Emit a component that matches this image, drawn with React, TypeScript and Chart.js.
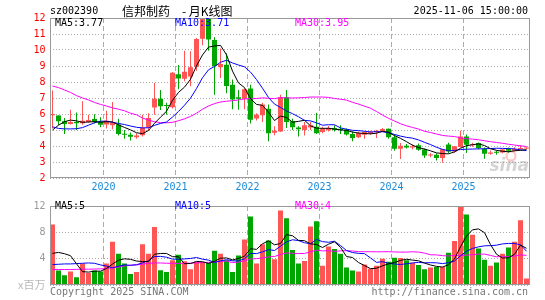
import React, { useEffect, useRef } from 'react';
import { Chart, registerables } from 'chart.js';

Chart.register(...registerables);

// ---- categories (monthly K-line, 2019-04 .. 2025-11) ----
const months = [
  '2019-04', '2019-05', '2019-06', '2019-07', '2019-08', '2019-09', '2019-10', '2019-11', '2019-12',
  '2020-01', '2020-02', '2020-03', '2020-04', '2020-05', '2020-06', '2020-07', '2020-08', '2020-09', '2020-10', '2020-11', '2020-12',
  '2021-01', '2021-02', '2021-03', '2021-04', '2021-05', '2021-06', '2021-07', '2021-08', '2021-09', '2021-10', '2021-11', '2021-12',
  '2022-01', '2022-02', '2022-03', '2022-04', '2022-05', '2022-06', '2022-07', '2022-08', '2022-09', '2022-10', '2022-11', '2022-12',
  '2023-01', '2023-02', '2023-03', '2023-04', '2023-05', '2023-06', '2023-07', '2023-08', '2023-09', '2023-10', '2023-11', '2023-12',
  '2024-01', '2024-02', '2024-03', '2024-04', '2024-05', '2024-06', '2024-07', '2024-08', '2024-09', '2024-10', '2024-11', '2024-12',
  '2025-01', '2025-02', '2025-03', '2025-04', '2025-05', '2025-06', '2025-07', '2025-08', '2025-09', '2025-10', '2025-11',
];

// ---- OHLC ----
const opens = [
  5.92, 5.90, 5.55, 5.38, 5.50, 5.42, 5.50, 5.68, 5.50, 5.35,
  5.30, 5.35, 4.77, 4.70, 4.54, 4.67, 5.15, 6.40, 6.96, 6.56,
  6.42, 8.48, 8.21, 8.35, 8.95, 10.70, 12.00, 10.62, 8.92, 9.08,
  7.83, 7.05, 6.95, 7.60, 5.72, 5.92, 6.33, 4.83, 4.91, 7.04,
  5.54, 5.15, 5.00, 5.15, 5.20, 4.88, 4.98, 5.12, 5.08, 5.02,
  4.75, 4.54, 4.71, 4.80, 4.88, 4.91, 5.08, 4.55, 3.83, 4.02,
  3.90, 4.04, 3.78, 3.40, 3.46, 3.25, 4.10, 3.66, 3.94, 4.60,
  4.05, 4.19, 3.81, 3.52, 3.62, 3.60, 3.82, 3.70, 3.82, 3.84,
];
const highs = [
  7.47, 5.92, 5.75, 6.27, 6.10, 6.80, 5.95, 5.98, 5.80, 6.20,
  6.75, 5.70, 5.00, 4.85, 4.80, 5.95, 6.05, 7.94, 7.50, 6.70,
  8.62, 9.06, 9.96, 9.92, 10.75, 12.00, 12.00, 10.80, 10.10, 9.80,
  8.15, 7.50, 7.60, 7.83, 6.05, 6.70, 6.60, 5.23, 7.20, 7.50,
  5.70, 5.23, 5.50, 5.50, 6.06, 5.20, 5.25, 5.30, 5.30, 5.10,
  4.92, 4.90, 4.90, 4.95, 5.00, 5.12, 5.10, 4.73, 4.19, 4.12,
  4.10, 4.15, 3.85, 3.55, 3.55, 3.80, 4.20, 4.00, 4.96, 4.72,
  4.20, 4.22, 3.90, 3.72, 3.72, 3.82, 3.90, 3.92, 4.05, 3.92,
];
const lows = [
  5.10, 5.30, 4.75, 5.35, 5.00, 5.33, 5.46, 5.40, 5.17, 5.10,
  5.05, 4.65, 4.46, 4.35, 4.45, 4.60, 4.95, 5.96, 6.25, 5.96,
  6.35, 7.55, 8.04, 7.73, 8.70, 10.30, 9.95, 7.20, 8.25, 7.30,
  6.30, 6.27, 6.30, 5.40, 5.60, 5.50, 4.30, 4.67, 4.87, 5.12,
  5.00, 4.60, 4.65, 5.00, 4.75, 4.80, 4.90, 4.90, 4.75, 4.65,
  4.30, 4.50, 4.46, 4.70, 4.50, 4.88, 4.45, 3.70, 3.19, 3.85,
  3.78, 3.70, 3.25, 3.30, 3.10, 2.95, 3.55, 3.60, 3.90, 3.56,
  3.95, 3.80, 3.21, 3.45, 3.45, 3.55, 3.60, 3.65, 3.78, 3.80,
];
const closes = [
  6.00, 5.54, 5.38, 5.50, 5.42, 5.58, 5.62, 5.50, 5.33, 5.58,
  5.45, 4.75, 4.70, 4.58, 4.65, 5.15, 5.75, 6.96, 6.48, 6.50,
  8.58, 8.22, 8.64, 8.92, 10.68, 12.00, 10.65, 9.00, 9.12, 7.75,
  6.90, 6.95, 7.55, 5.64, 5.95, 6.60, 4.80, 4.95, 7.04, 5.50,
  5.17, 5.05, 5.29, 5.30, 4.80, 5.06, 5.12, 5.00, 5.00, 4.72,
  4.50, 4.81, 4.88, 4.88, 4.95, 5.06, 4.54, 3.83, 4.02, 3.90,
  3.98, 3.76, 3.40, 3.44, 3.25, 3.80, 3.66, 3.98, 4.60, 4.08,
  4.10, 3.87, 3.52, 3.60, 3.58, 3.78, 3.70, 3.82, 3.86, 3.88,
];

// ---- price moving averages ----
const ma5 = [
  5.00, 5.30, 5.52, 5.62, 5.57, 5.48, 5.50, 5.52, 5.49, 5.52,
  5.50, 5.32, 5.16, 5.01, 4.83, 4.77, 4.97, 5.42, 5.80, 6.17,
  6.85, 7.35, 7.68, 8.17, 9.01, 9.69, 10.18, 10.25, 10.29, 9.70,
  8.68, 7.94, 7.65, 6.96, 6.60, 6.54, 6.11, 5.59, 5.87, 5.78,
  5.49, 5.54, 5.61, 5.26, 5.12, 5.10, 5.11, 5.06, 5.00, 4.98,
  4.87, 4.81, 4.78, 4.76, 4.80, 4.92, 4.86, 4.65, 4.48, 4.27,
  4.05, 3.90, 3.81, 3.70, 3.57, 3.53, 3.51, 3.63, 3.86, 4.02,
  4.08, 4.13, 4.03, 3.83, 3.73, 3.67, 3.64, 3.70, 3.73, 3.77,
];
const ma10 = [
  5.20, 5.10, 5.07, 5.07, 5.08, 5.15, 5.30, 5.45, 5.55, 5.55,
  5.49, 5.41, 5.34, 5.25, 5.17, 5.13, 5.14, 5.29, 5.41, 5.50,
  5.81, 6.16, 6.55, 6.99, 7.59, 8.27, 8.76, 8.97, 9.23, 9.36,
  9.19, 9.06, 8.95, 8.62, 8.15, 7.61, 7.03, 6.62, 6.41, 6.19,
  6.02, 5.83, 5.60, 5.57, 5.45, 5.30, 5.33, 5.33, 5.13, 5.05,
  4.98, 4.96, 4.92, 4.88, 4.89, 4.89, 4.83, 4.72, 4.62, 4.54,
  4.49, 4.38, 4.23, 4.09, 3.92, 3.79, 3.70, 3.72, 3.78, 3.80,
  3.81, 3.82, 3.83, 3.84, 3.86, 3.85, 3.84, 3.82, 3.76, 3.71,
];
const ma30 = [
  7.75, 7.65, 7.50, 7.35, 7.15, 7.00, 6.88, 6.72, 6.60, 6.50,
  6.38, 6.30, 6.20, 6.05, 5.95, 5.75, 5.62, 5.52, 5.46, 5.45,
  5.48, 5.58, 5.70, 5.85, 6.05, 6.30, 6.50, 6.65, 6.75, 6.80,
  6.83, 6.88, 6.95, 6.95, 6.97, 7.01, 6.98, 6.96, 7.02, 7.01,
  7.00, 7.01, 7.03, 7.06, 7.06, 7.06, 7.04, 6.97, 6.92, 6.87,
  6.73, 6.62, 6.49, 6.36, 6.16, 5.93, 5.73, 5.56, 5.39, 5.26,
  5.16, 5.06, 4.92, 4.84, 4.75, 4.66, 4.62, 4.59, 4.51, 4.46,
  4.43, 4.39, 4.33, 4.27, 4.22, 4.17, 4.11, 4.06, 4.01, 3.97,
];

// ---- volume (x 1,000,000) ----
const volumes = [
  9.20, 2.20, 1.47, 2.05, 1.18, 3.27, 1.81, 2.20, 2.05, 3.27,
  6.58, 4.73, 3.27, 1.67, 1.96, 6.19, 4.73, 8.82, 2.25, 1.96,
  3.76, 4.59, 3.62, 2.39, 3.52, 3.52, 3.37, 5.22, 4.73, 3.76,
  1.96, 4.49, 6.92, 10.42, 3.27, 6.19, 6.77, 3.91, 11.30, 10.13,
  5.31, 3.27, 3.66, 8.87, 9.70, 2.93, 5.85, 5.46, 4.73, 2.64,
  2.20, 2.05, 3.13, 2.45, 2.93, 4.00, 3.52, 4.15, 4.10, 3.76,
  3.37, 3.03, 2.39, 2.64, 2.74, 2.79, 4.88, 6.68, 12.00, 10.70,
  7.65, 5.56, 3.85, 2.93, 3.42, 4.73, 5.71, 6.58, 9.84, 0.99,
];
const volMa5 = [
  4.80, 4.95, 4.75, 4.45, 3.22, 2.03, 1.96, 2.10, 2.10, 2.52,
  3.18, 3.77, 3.98, 3.90, 3.64, 3.56, 3.56, 4.67, 4.79, 4.79,
  4.30, 4.28, 3.24, 3.26, 3.58, 3.53, 3.28, 3.60, 4.07, 4.12,
  3.81, 4.03, 4.37, 5.51, 5.41, 6.26, 6.71, 6.11, 6.29, 7.66,
  7.48, 6.78, 6.73, 6.25, 6.16, 5.69, 6.20, 6.56, 5.73, 4.32,
  4.18, 3.42, 2.95, 2.49, 2.55, 2.91, 3.21, 3.41, 3.74, 3.91,
  3.78, 3.68, 3.33, 3.04, 2.83, 2.72, 3.09, 3.95, 5.82, 7.41,
  8.38, 8.52, 7.95, 6.14, 4.68, 4.10, 4.13, 4.67, 6.06, 5.57,
];
const volMa10 = [
  3.10, 3.15, 3.20, 3.20, 3.25, 3.30, 3.35, 3.30, 3.05, 2.87,
  2.61, 2.86, 3.04, 3.00, 3.08, 3.37, 3.67, 4.33, 4.35, 4.22,
  3.93, 3.92, 3.96, 4.03, 4.18, 3.92, 3.78, 3.42, 3.67, 3.85,
  3.67, 3.66, 3.99, 4.79, 4.77, 5.03, 5.37, 5.24, 5.90, 6.54,
  6.87, 6.75, 6.42, 6.27, 6.91, 6.59, 6.49, 6.65, 5.99, 5.24,
  4.93, 4.81, 4.76, 4.11, 3.44, 3.54, 3.31, 3.18, 3.12, 3.23,
  3.35, 3.44, 3.37, 3.39, 3.37, 3.25, 3.39, 3.64, 4.43, 5.12,
  5.55, 5.80, 5.95, 5.98, 6.05, 6.24, 6.32, 6.31, 6.10, 5.13,
];
const volMa30 = [
  2.35, 2.35, 2.35, 2.35, 2.38, 2.40, 2.40, 2.42, 2.45, 2.50,
  2.60, 2.75, 2.90, 3.00, 3.05, 3.15, 3.30, 3.35, 3.35, 3.30,
  3.30, 3.28, 3.30, 3.32, 3.35, 3.40, 3.45, 3.50, 3.58, 3.64,
  3.40, 3.48, 3.66, 3.94, 4.01, 4.11, 4.27, 4.33, 4.64, 4.87,
  4.82, 4.78, 4.79, 5.03, 5.29, 5.18, 5.22, 5.10, 5.19, 5.21,
  5.16, 5.07, 5.06, 5.06, 5.04, 5.05, 5.06, 5.02, 5.00, 5.00,
  5.05, 5.00, 4.85, 4.59, 4.57, 4.46, 4.40, 4.49, 4.51, 4.53,
  4.61, 4.69, 4.69, 4.49, 4.28, 4.34, 4.34, 4.39, 4.56, 4.51,
];

// ---- texts ----
const stockCode = 'sz002390';
const chartTitle = '信邦制药\u3000- 月K线图';
const dateText = '2025-11-06 15:00:00';
const priceMaLabels = ['MA5:3.77', 'MA10:3.71', 'MA30:3.95'];
const volMaLabels = ['MA5:5', 'MA10:5', 'MA30:4'];
const volUnit = 'x百万';
const copyright = 'Copyright 2025 SINA.COM';
const siteUrl = 'http://finance.sina.com.cn';

// ---- styling ----
const UP = '#ff5555';
const DOWN = '#00a600';
const MA_COLORS = ['#000000', '#0000ff', '#ff00ff'];
const MONO = '"DejaVu Sans Mono", monospace';
const CJK = '"Noto Sans CJK SC", sans-serif';
const GRID = '#aaaaaa';
const FRAME = '#999999';

const isJan = (i: any) => typeof i === 'number' && months[i] !== undefined && months[i].endsWith('-01');
const barColors = months.map((_, i) => (closes[i] >= opens[i] ? UP : DOWN));

type TextItem = { text: string; x: number; y: number; color: string; font: string; align?: CanvasTextAlign };

function decorPlugin(id: string, texts: TextItem[], watermark: boolean) {
  return {
    id,
    beforeDatasetsDraw(chart: any) {
      if (!watermark) return;
      const { ctx } = chart;
      ctx.save();
      ctx.fillStyle = 'rgba(160,160,160,0.45)';
      ctx.font = 'italic bold 17px "DejaVu Sans", sans-serif';
      ctx.textAlign = 'right';
      ctx.textBaseline = 'alphabetic';
      ctx.fillText('sina', 529, 171);
      ctx.strokeStyle = 'rgba(255,120,120,0.45)';
      ctx.lineWidth = 2;
      ctx.beginPath();
      ctx.arc(511, 156, 4.5, 0, Math.PI * 2);
      ctx.stroke();
      ctx.restore();
    },
    afterDraw(chart: any) {
      const { ctx, chartArea } = chart;
      ctx.save();
      ctx.strokeStyle = FRAME;
      ctx.lineWidth = 1;
      ctx.setLineDash([]);
      const l = Math.round(chartArea.left) + 0.5;
      const r = Math.round(chartArea.right) - 0.5;
      const t = Math.round(chartArea.top) + 0.5;
      const b = Math.round(chartArea.bottom) - 0.5;
      ctx.strokeRect(l, t, r - l, b - t);
      ctx.textBaseline = 'middle';
      for (const it of texts) {
        ctx.font = it.font;
        ctx.fillStyle = it.color;
        ctx.textAlign = it.align || 'left';
        ctx.fillText(it.text, it.x, it.y);
      }
      ctx.restore();
    },
  };
}

const xGrid = {
  offset: true,
  drawTicks: false,
  lineWidth: 1,
  color: (c: any) => (c.tick && isJan(c.index) ? GRID : 'rgba(0,0,0,0)'),
};

function lineDs(label: string, data: number[], color: string) {
  return {
    type: 'line' as const,
    label,
    data,
    borderColor: color,
    backgroundColor: color,
    borderWidth: 1,
    pointRadius: 0,
    tension: 0,
    fill: false,
    order: 0,
  };
}

function priceConfig(): any {
  const texts: TextItem[] = [
    { text: stockCode, x: 50, y: 11, color: '#000', font: `10px ${MONO}` },
    { text: chartTitle, x: 122, y: 11, color: '#000', font: `12px ${CJK}` },
    { text: dateText, x: 528, y: 11, color: '#000', font: `10px ${MONO}`, align: 'right' },
    { text: priceMaLabels[0], x: 55, y: 23.5, color: MA_COLORS[0], font: `10px ${MONO}` },
    { text: priceMaLabels[1], x: 175, y: 23.5, color: MA_COLORS[1], font: `10px ${MONO}` },
    { text: priceMaLabels[2], x: 295, y: 23.5, color: MA_COLORS[2], font: `10px ${MONO}` },
  ];
  return {
    type: 'bar',
    data: {
      labels: months,
      datasets: [
        lineDs('MA5', ma5, MA_COLORS[0]),
        lineDs('MA10', ma10, MA_COLORS[1]),
        lineDs('MA30', ma30, MA_COLORS[2]),
        {
          type: 'bar',
          label: 'body',
          data: months.map((_, i) => [opens[i], closes[i]]),
          backgroundColor: barColors,
          borderWidth: 0,
          barThickness: 5,
          grouped: false,
          minBarLength: 1,
          inflateAmount: 0,
          order: 1,
        },
        {
          type: 'bar',
          label: 'wick',
          data: months.map((_, i) => [lows[i], highs[i]]),
          backgroundColor: barColors,
          borderWidth: 0,
          barThickness: 1,
          grouped: false,
          minBarLength: 1,
          inflateAmount: 0,
          order: 2,
        },
      ],
    },
    options: {
      responsive: false,
      animation: false,
      devicePixelRatio: 1,
      events: [],
      layout: { padding: { left: 0, right: 15.5, top: 18, bottom: 0 } },
      plugins: { legend: { display: false }, tooltip: { enabled: false }, title: { display: false } },
      scales: {
        x: {
          type: 'category',
          offset: true,
          grid: xGrid,
          border: { display: false, dash: [5, 3] },
          ticks: {
            autoSkip: false,
            maxRotation: 0,
            minRotation: 0,
            padding: 3,
            labelOffset: -3,
            color: '#1a8ad8',
            font: { family: MONO, size: 10 },
            callback: (_v: any, i: number) => (isJan(i) ? months[i].slice(0, 4) : ''),
          },
          afterFit: (s: any) => { s.height = 18; },
        },
        y: {
          type: 'linear',
          min: 2,
          max: 12,
          ticks: { stepSize: 1, color: '#ff0000', padding: 4, font: { family: MONO, size: 10 } },
          grid: { drawTicks: false, color: GRID, lineWidth: 1 },
          border: { display: false, dash: [1, 2] },
          afterFit: (s: any) => { s.width = 49.5; },
        },
      },
    },
    plugins: [decorPlugin('priceDecor', texts, true)],
  };
}

function volumeConfig(): any {
  const texts: TextItem[] = [
    { text: volMaLabels[0], x: 55, y: 10, color: MA_COLORS[0], font: `10px ${MONO}` },
    { text: volMaLabels[1], x: 175, y: 10, color: MA_COLORS[1], font: `10px ${MONO}` },
    { text: volMaLabels[2], x: 295, y: 10, color: MA_COLORS[2], font: `10px ${MONO}` },
    { text: copyright, x: 50, y: 96, color: '#777', font: `10px ${MONO}` },
    { text: siteUrl, x: 528, y: 96, color: '#777', font: `10px ${MONO}`, align: 'right' },
  ];
  return {
    type: 'bar',
    data: {
      labels: months,
      datasets: [
        lineDs('VMA5', volMa5, MA_COLORS[0]),
        lineDs('VMA10', volMa10, MA_COLORS[1]),
        lineDs('VMA30', volMa30, MA_COLORS[2]),
        {
          type: 'bar',
          label: 'volume',
          data: volumes,
          backgroundColor: barColors,
          borderWidth: 0,
          barThickness: 5,
          inflateAmount: 0,
          order: 1,
        },
      ],
    },
    options: {
      responsive: false,
      animation: false,
      devicePixelRatio: 1,
      events: [],
      layout: { padding: { left: 0, right: 15.5, top: 6, bottom: 0 } },
      plugins: { legend: { display: false }, tooltip: { enabled: false }, title: { display: false } },
      scales: {
        x: {
          type: 'category',
          offset: true,
          grid: xGrid,
          border: { display: false, dash: [5, 3] },
          ticks: { display: false },
          afterFit: (s: any) => { s.height = 15; },
        },
        y: {
          type: 'linear',
          min: 0,
          max: 12,
          ticks: {
            stepSize: 4,
            padding: 4,
            color: (c: any) => (c.tick && c.tick.value === 0 ? '#b8b8b8' : '#999999'),
            font: (c: any) => (c.tick && c.tick.value === 0 ? { family: CJK, size: 11 } : { family: MONO, size: 10 }),
            callback: (v: any) => (v === 0 ? volUnit : String(v)),
          },
          grid: { drawTicks: false, color: GRID, lineWidth: 1 },
          border: { display: false, dash: [1, 2] },
          afterFit: (s: any) => { s.width = 49.5; },
        },
      },
    },
    plugins: [decorPlugin('volDecor', texts, false)],
  };
}

export default function App() {
  const priceRef = useRef<HTMLCanvasElement>(null);
  const volRef = useRef<HTMLCanvasElement>(null);

  useEffect(() => {
    if (!priceRef.current || !volRef.current) return;
    const c1 = new Chart(priceRef.current, priceConfig());
    const c2 = new Chart(volRef.current, volumeConfig());
    return () => {
      c1.destroy();
      c2.destroy();
    };
  }, []);

  return (
    <div style={{ position: 'absolute', left: 0, top: 0, width: 545, height: 300, background: '#ffffff', overflow: 'hidden' }}>
      <canvas
        ref={priceRef}
        width={545}
        height={196}
        style={{ position: 'absolute', left: 0, top: 0, width: 545, height: 196 }}
      />
      <canvas
        ref={volRef}
        width={545}
        height={104}
        style={{ position: 'absolute', left: 0, top: 196, width: 545, height: 104 }}
      />
    </div>
  );
}
